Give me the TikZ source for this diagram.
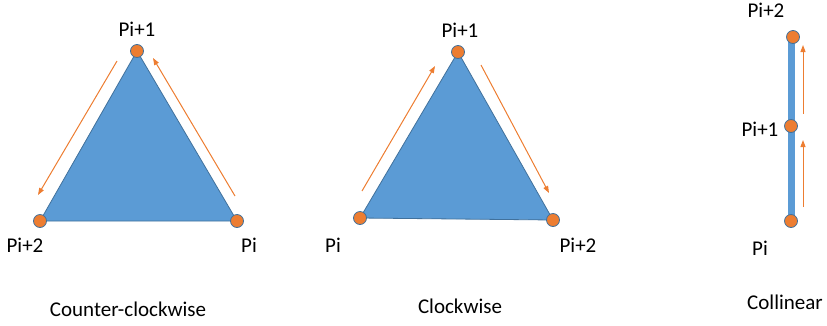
\documentclass[tikz,border=0pt]{standalone}
\usepackage{fontspec}
\setmainfont{Carlito}
\usetikzlibrary{arrows.meta}
\definecolor{tri}{HTML}{5B9BD5}
\definecolor{triedge}{HTML}{41719C}
\definecolor{pt}{HTML}{ED7D31}
\tikzset{
  trifill/.style={fill=tri, draw=triedge, line width=0.8pt, line join=round},
  vertex/.style={circle, fill=pt, draw=triedge, line width=0.8pt, minimum size=13pt, inner sep=0pt},
  lbl/.style={font=\fontsize{21}{24}\selectfont, inner sep=0pt},
  dir/.style={draw=pt, line width=1pt, -{Triangle[length=7pt,width=5pt]}}
}
\begin{document}
\begin{tikzpicture}[x=1pt,y=-1pt]
\useasboundingbox (0,0) rectangle (827,325);

% counter-clockwise triangle
\coordinate (a1) at (237,221);
\coordinate (a2) at (137,51);
\coordinate (a3) at (40,221);
\filldraw[trifill] (a1) -- (a2) -- (a3) -- cycle;
\node[vertex] (va1) at (a1) {};
\node[vertex] (va2) at (a2) {};
\node[vertex] (va3) at (a3) {};
\node[lbl] (la2) at (137,29) {Pi+1};
\node[lbl] (la3) at (25,245) {Pi+2};
\node[lbl] (la1) at (249,245) {Pi};
\coordinate (ar1s) at (235,196); \coordinate (ar1e) at (153,58);
\coordinate (ar2s) at (117,61);  \coordinate (ar2e) at (38,195);
\draw[dir] (ar1s) -- (ar1e);
\draw[dir] (ar2s) -- (ar2e);
\node[lbl] (ccw) at (128,309) {Counter-clockwise};

% clockwise triangle
\coordinate (b1) at (360,218);
\coordinate (b2) at (458,52);
\coordinate (b3) at (553,220);
\filldraw[trifill] (b1) -- (b2) -- (b3) -- cycle;
\node[vertex] (vb1) at (b1) {};
\node[vertex] (vb2) at (b2) {};
\node[vertex] (vb3) at (b3) {};
\node[lbl] (lb2) at (460,30) {Pi+1};
\node[lbl] (lb1) at (333,245) {Pi};
\node[lbl] (lb3) at (578,245) {Pi+2};
\coordinate (br1s) at (362,191); \coordinate (br1e) at (435,66);
\coordinate (br2s) at (481,65);  \coordinate (br2e) at (549,193);
\draw[dir] (br1s) -- (br1e);
\draw[dir] (br2s) -- (br2e);
\node[lbl] (cw) at (460,306) {Clockwise};

% collinear points
\coordinate (c1) at (791,221);
\coordinate (c2) at (791,126);
\coordinate (c3) at (791,37);
\draw[draw=tri, line width=7pt] (c1) -- (c3);
\node[vertex] (vc1) at (c1) {};
\node[vertex] (vc2) at (c2) {};
\node[vertex] (vc3) at (793,37) {};
\node[lbl] (lc3) at (766,10) {Pi+2};
\node[lbl] (lc2) at (760,129) {Pi+1};
\node[lbl] (lc1) at (760,248) {Pi};
\coordinate (cr1s) at (803,207); \coordinate (cr1e) at (803,140);
\coordinate (cr2s) at (803,114); \coordinate (cr2e) at (803,45);
\draw[dir] (cr1s) -- (cr1e);
\draw[dir] (cr2s) -- (cr2e);
\node[lbl] (col) at (785,302) {Collinear};
\end{tikzpicture}
\end{document}
